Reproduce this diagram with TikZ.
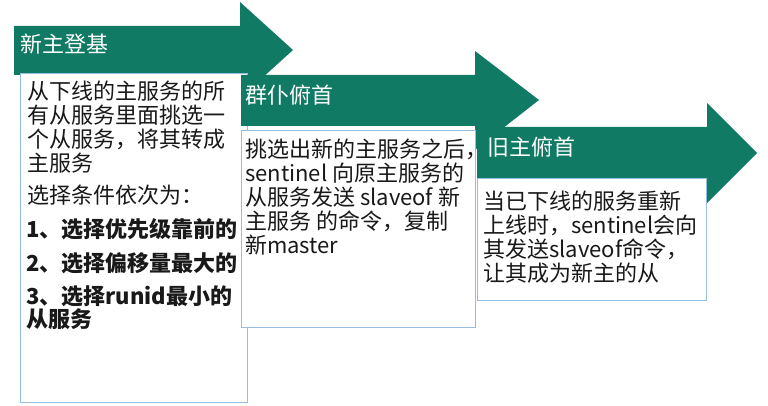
\documentclass[tikz,border=0pt]{standalone}
\usepackage{fontspec}
\setmainfont{Noto Sans CJK SC}
\usepackage{tikz}
\definecolor{jadegreen}{RGB}{16,122,100}
\definecolor{boxblue}{RGB}{150,190,225}
\definecolor{inkgray}{RGB}{25,25,25}
\tikzstyle{every node}=[font=\fontsize{22}{24}\selectfont, inner sep=0pt, text=inkgray]

\begin{document}
\begin{tikzpicture}[line join=miter,x=1pt,y=-1pt]
                    \useasboundingbox (0,0) rectangle (768,406);
                    \fill [white] (0,0) rectangle (768,406);
                    % step one
                    \fill [color=jadegreen] (14,26) -- (240,26) -- (240,2) -- (293,50) -- (240,98) -- (240,75) -- (14,75) -- cycle;
                    \node [anchor=west, text=white] (head1) at (20,44) {新主登基};
                    \node [draw=boxblue, line width=1.2pt, fill=white, anchor=north west, minimum width=227pt, minimum height=329pt] (box1) at (20,73) {};
                    \node [anchor=north west, align=left] (text1a) at (27,81) {从下线的主服务的所\\有从服务里面挑选一\\个从服务，将其转成\\主服务};
                    \node [anchor=north west, align=left] (text1b) at (27,185) {选择条件依次为：};
                    \node [anchor=north west, align=left, font=\fontsize{22}{23}\selectfont\bfseries] (text1c) at (26,218) {1、选择优先级靠前的\\[11pt]2、选择偏移量最大的\\[10pt]3、选择runid最小的\\从服务};
                    % step two
                    \fill [color=jadegreen] (241,75) -- (475,75) -- (475,51) -- (539,100) -- (475,150) -- (475,126) -- (241,126) -- cycle;
                    \node [anchor=west, text=white] (head2) at (245,95) {群仆俯首};
                    \node [draw=boxblue, line width=1.2pt, fill=white, anchor=north west, minimum width=234pt, minimum height=197pt] (box2) at (241,130) {};
                    \node [anchor=north west, align=left] (text2) at (245,139) {挑选出新的主服务之后，\\sentinel 向原主服务的\\从服务发送 slaveof 新\\主服务 的命令，复制\\新master};
                    % step three
                    \fill [color=jadegreen] (477,127) -- (707,127) -- (707,103) -- (757,153) -- (707,203) -- (707,178) -- (477,178) -- cycle;
                    \node [anchor=west, text=white] (head3) at (487,147) {旧主俯首};
                    \node [draw=boxblue, line width=1.2pt, fill=white, anchor=north west, minimum width=229pt, minimum height=122pt] (box3) at (477,178) {};
                    \node [anchor=north west, align=left] (text3) at (483,191) {当已下线的服务重新\\上线时，sentinel会向\\其发送slaveof命令，\\让其成为新主的从};
                    \end{tikzpicture}
\end{document}
